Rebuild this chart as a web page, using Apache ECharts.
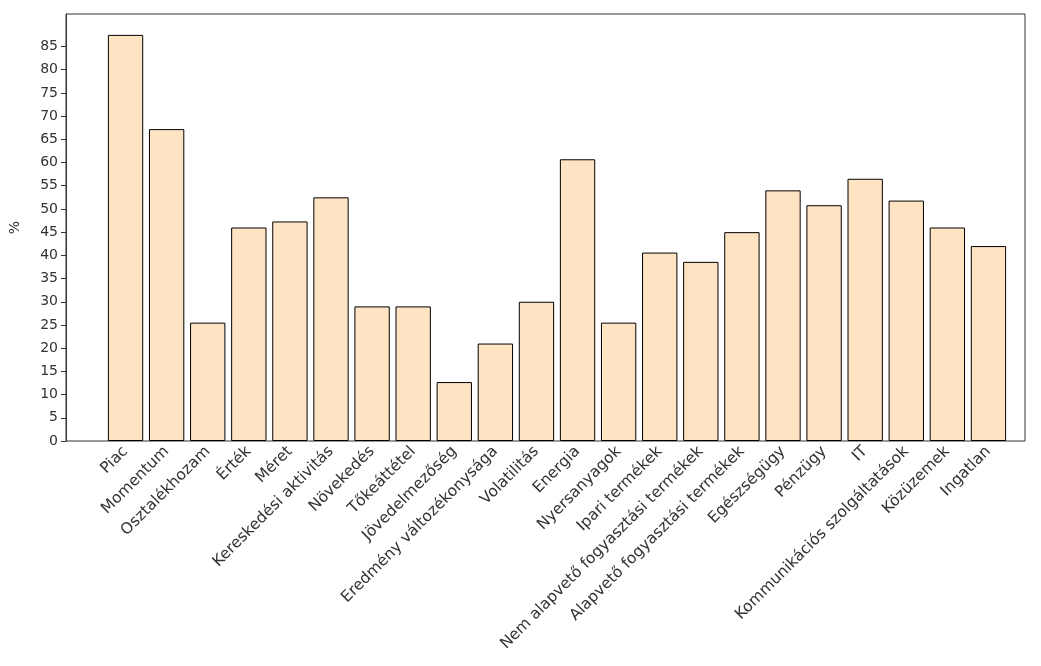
<!DOCTYPE html>
<html>
<head>
  <meta charset="UTF-8">
  <script src="https://cdn.jsdelivr.net/npm/echarts@6/dist/echarts.min.js"></script>
</head>
<body style="margin:0">
  <div id="main" style="width:1041px;height:666px;"></div>
  <script>
    const categories = ['Piac', 'Momentum', 'Osztalékhozam', 'Érték', 'Méret', 'Kereskedési aktivitás',
      'Növekedés', 'Tőkeáttétel', 'Jövedelmezőség', 'Eredmény változékonysága', 'Volatilitás', 'Energia',
      'Nyersanyagok', 'Ipari termékek', 'Nem alapvető fogyasztási termékek', 'Alapvető fogyasztási termékek',
      'Egészségügy', 'Pénzügy', 'IT', 'Kommunikációs szolgáltatások', 'Közüzemek', 'Ingatlan'];
    const values = [87.5, 67.2, 25.5, 46, 47.3, 52.5, 29, 29, 12.7, 21, 30, 60.7,
      25.5, 40.6, 38.6, 45, 54, 50.8, 56.5, 51.8, 46, 42];
    const yTicks = [0, 5, 10, 15, 20, 25, 30, 35, 40, 45, 50, 55, 60, 65, 70, 75, 80, 85];

    const font = { color: '#333', fontSize: 14, fontFamily: 'DejaVu Sans' };
    const chart = echarts.init(document.getElementById('main'));
    chart.setOption({
      animation: false,
      grid: [
        { left: 105, right: 32, top: 14, bottom: 225 },
        { left: 62, right: 16, top: 14, bottom: 225, show: true, borderColor: '#333', borderWidth: 1 }
      ],
      xAxis: [{
        type: 'category',
        gridIndex: 0,
        data: categories,
        axisLine: { show: false },
        axisTick: { alignWithLabel: true, length: 5, lineStyle: { color: '#333' } },
        axisLabel: Object.assign({}, font, { rotate: 45, interval: 0, margin: 8, fontSize: 15.5 })
      }, {
        type: 'value', gridIndex: 1, show: false
      }],
      yAxis: [{
        type: 'value',
        gridIndex: 0,
        min: 0, max: 92,
        show: false
      }, {
        type: 'value',
        gridIndex: 1,
        name: '%',
        nameLocation: 'middle',
        nameGap: 44,
        nameTextStyle: font,
        min: 0, max: 92,
        splitLine: { show: false },
        axisLine: { show: true, lineStyle: { color: '#333' } },
        axisTick: { show: true, length: 5, customValues: yTicks, lineStyle: { color: '#333' } },
        axisLabel: Object.assign({ customValues: yTicks, margin: 8 }, font)
      }],
      series: [{
        type: 'bar',
        xAxisIndex: 0,
        yAxisIndex: 0,
        data: values,
        barWidth: '86%',
        itemStyle: { color: '#ffe4c4', borderColor: '#000', borderWidth: 1 }
      }]
    });
  </script>
</body>
</html>
